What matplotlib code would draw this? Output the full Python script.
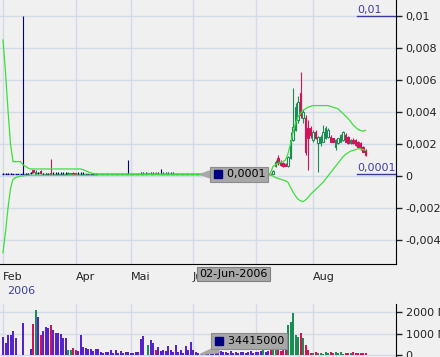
import numpy as np
import matplotlib
matplotlib.use('Agg')
import matplotlib.pyplot as plt
import matplotlib.transforms as mtrans
from matplotlib.ticker import FuncFormatter, MultipleLocator

# daily prices, in units of 0.0001
opens = ([1.5]*4 + [1]*4 + [1] + [1.5]*2 + [2, 3.5, 1, 2, 3] + [1.5]*3 + [2] + [1.5]*6
         + [1, 1.5, 2, 2] + [1.5]*3 + [1]*17 + [1] + [1]*4 + [1.5]*3 + [1] + [1.5]*2
         + [2, 1.5, 1.5] + [1.5]*5 + [1]*35 + [1] + [1]*2 + [1.5, 1]
         + [6, 11, 9, 8, 7.5, 6, 11, 22.5, 29, 35, 51.7, 36, 36, 29.8, 29.8, 22.5, 27.7, 20.4,
            20.4, 21.5, 23.5, 24.6, 24.6, 23.5, 18.3, 20.4, 21.5, 22.5, 25.6, 24.6, 20.4, 22.5,
            22.5, 21.5, 20.4, 18.3, 16.25])
highs = ([2]*4 + [1]*4 + [100] + [2]*2 + [2.5, 4, 4, 2.5, 3.5] + [2]*3 + [10.5] + [2.5]*6
         + [2.5, 2, 2.5, 2] + [2.5]*3 + [1]*17 + [10] + [1]*4 + [2.5]*3 + [2] + [2.5]*2
         + [2.5, 2.5, 4.5] + [2.5]*5 + [1]*35 + [1.5] + [1]*2 + [2, 4]
         + [10, 13, 10, 8.5, 8, 12.5, 27.7, 54.8, 45.4, 50, 65.2, 42, 38, 35, 31, 29, 28.5, 25,
            25.5, 31.9, 31, 30, 25.5, 24, 23, 24, 26, 28, 27, 25, 23, 23.5, 23, 22, 21, 19, 17])
lows = ([1]*4 + [1]*4 + [1] + [1]*2 + [1.5, 2, 1, 1.5, 1.5] + [1]*3 + [1] + [1]*6
        + [1, 1, 1, 1] + [1]*3 + [1]*17 + [1] + [1]*4 + [1]*3 + [1] + [1]*2
        + [1, 1, 1] + [1]*5 + [1]*35 + [1] + [1]*2 + [1, 1]
        + [5.5, 7, 6.5, 5.5, 6, 5.5, 10.5, 22, 28, 33, 36, 33, 13, 3.75, 24, 21, 23, 2.7, 19, 21,
           23, 24, 21, 21, 16.25, 20, 21, 22, 21, 20, 20, 20, 19, 18, 16.5, 15, 12.5])
closes = ([1.5]*4 + [1]*4 + [1] + [1.5]*2 + [2, 2.5, 2.5, 2, 2] + [1.5]*3 + [1] + [1.5]*6
          + [2, 2, 1.5, 1] + [1.5]*3 + [1]*17 + [1] + [1]*4 + [1.5]*3 + [1.8] + [1.5]*2
          + [1.5, 1.5, 1.5] + [1.5]*5 + [1]*35 + [1.3] + [1]*2 + [1, 3]
          + [9, 8, 7, 6, 6.5, 12, 22.5, 30.8, 43, 46, 38, 40, 15.2, 23.5, 25.6, 27.7, 23.5, 24.6,
             24.6, 27.7, 29.8, 28.75, 21.5, 21.5, 22.5, 23.5, 25.6, 27.7, 21.5, 20.4, 22.5, 20.4,
             19.4, 18.3, 17.3, 15.2, 13.1])

# bollinger bands, units of 0.0001
upper = ([85, 65, 41, 20, 9, 9, 9, 9, 7, 6, 5] + [4.4]*21 + [4, 3.3, 2.6, 2, 1.6, 1.4] + [1.3]*69
         + [2, 6, 7, 8, 8.5, 9, 10, 14, 20, 27, 33, 37, 39, 41, 42, 43, 43.5, 44, 44, 44, 44, 44,
            44, 44, 43.5, 43, 42.5, 42, 40.5, 39, 37.5, 36, 34, 32, 30.5, 29, 28.5, 28, 28.5])
lower = ([-48, -35, -20, -8, -2, -1, -0.5, 0, 0, 0.3] + [0.5]*28 + [0.8]*69
         + [0.5, 0, -1, -1.5, -2, -2.5, -3, -4, -7, -10, -12.5, -14.5, -15.5, -16, -15, -13.5,
            -11.5, -10, -8.5, -7, -5.5, -4, -2, 0, 2, 4, 6, 8, 10, 12, 13.5, 14.5, 15.5, 16,
            16.5, 17, 17, 16.5, 16])

# volume in millions
volumes = [850, 570, 930, 930, 1100, 800, 0, 0, 1500, 0,
           0, 260, 1440, 2090, 1780, 930, 1130, 1320, 1270, 1400,
           1160, 1040, 1040, 1000, 775, 775, 230, 230, 310, 230,
           180, 930, 390, 310, 280, 280, 180, 280, 280, 150,
           110, 150, 150, 230, 110, 230, 110, 170, 110, 140,
           140, 80, 110, 140, 140, 730, 880, 0, 465, 700,
           540, 230, 390, 180, 230, 190, 420, 230, 160, 465,
           160, 230, 110, 420, 230, 620, 230, 160, 80, 34.415,
           50, 60, 80, 50, 230, 150, 100, 180, 120, 150,
           90, 200, 110, 140, 90, 160, 120, 100, 150, 180,
           100, 130, 160, 200, 230, 150, 200, 310, 465, 230,
           310, 200, 230, 390, 1400, 1550, 1940, 930, 850, 1040,
           775, 465, 230, 110, 90, 140, 80, 110, 70, 130,
           90, 160, 80, 120, 90, 130, 70, 100, 110, 80,
           120, 90, 110, 100, 80, 110]

# "Jul" sits under the date box in the original, so it is left blank
tick_pos = [0, 29, 51, 76, 101, 124]
tick_lbl = ['Feb', 'Apr', 'Mai', 'Jun', '', 'Aug']
year_lbl = '2006'
cursor = 79
cursor_date = '02-Jun-2006'

o = np.array(opens) * 1e-4
h = np.array(highs) * 1e-4
l = np.array(lows) * 1e-4
c = np.array(closes) * 1e-4
vol = np.array(volumes)
x = np.arange(len(c))

GREEN = '#1c8c55'
RED = '#d0145a'
NAVY = '#000080'
PURPLE = '#5522cc'
BAND = '#3ce03c'
GRID = '#d4dbe8'
BG = '#f0f0f0'
LBL = '#4040a0'

up = c > o
down = c < o
flat = ~(up | down)
ccol = np.where(up, GREEN, np.where(down, RED, NAVY))
vcol = np.where(up, GREEN, np.where(down, RED, PURPLE))


def fmt(v):
    if abs(v) < 1e-12:
        return '0'
    return ('%.4g' % v).replace('.', ',')


def cursor_box(a, xv, yv, text, dx, dy):
    box = dict(boxstyle='square,pad=0.25', fc='#a8a8a8', ec='#8c8c8c', lw=0.8)
    arrow = dict(arrowstyle='wedge,tail_width=0.6', fc='#a8a8a8', ec='#a8a8a8',
                 shrinkA=0, shrinkB=0)
    # leading blanks leave room for the little navy square
    a.annotate('    ' + text, xy=(xv, yv), xytext=(dx, dy), textcoords='offset pixels',
               ha='left', va='center', bbox=box, arrowprops=arrow, zorder=10)
    tr = mtrans.offset_copy(a.transData, fig=a.figure, x=dx + 5, y=dy, units='dots')
    a.plot([xv], [yv], marker='s', ms=5.5, color=NAVY, transform=tr,
           clip_on=False, zorder=11)


plt.rcParams['font.size'] = 8
fig = plt.figure(figsize=(4.4, 3.57), dpi=100, facecolor=BG)
ax = fig.add_axes([0, 1 - 264/357, 396/440, 264/357], facecolor=BG)
axv = fig.add_axes([0, -5/357, 396/440, 58/357], facecolor=BG)

for a in (ax, axv):
    a.set_xlim(-1.2, 157.2)
    a.set_xticks(tick_pos)
    a.grid(True, color=GRID, lw=1)
    a.set_axisbelow(True)
    for s in ('left', 'top'):
        a.spines[s].set_visible(False)
    a.yaxis.tick_right()
    a.tick_params(axis='y', direction='out', length=4, width=1, pad=3, colors='#222222')

# price panel
ax.set_ylim(-0.0055, 0.011)
ax.yaxis.set_major_locator(MultipleLocator(0.002))
ax.yaxis.set_major_formatter(FuncFormatter(lambda v, _: fmt(v)))
ax.set_xticklabels(tick_lbl)
ax.tick_params(axis='x', length=0, pad=6, colors='#222222')
for t in ax.get_xticklabels():
    t.set_horizontalalignment('left')

ax.vlines(x, l, h, colors=ccol, lw=0.8, zorder=2)
ax.bar(x[up], (c - o)[up], bottom=o[up], width=0.7, facecolor='white',
       edgecolor=GREEN, lw=0.8, zorder=2)
ax.bar(x[down], (o - c)[down], bottom=c[down], width=0.7, facecolor=RED,
       edgecolor=RED, lw=0.8, zorder=2)
ax.hlines(o[flat], x[flat] - 0.4, x[flat] + 0.4, color=NAVY, lw=1, zorder=2)

ax.plot(x, np.array(upper) * 1e-4, color=BAND, lw=0.9, zorder=3)
ax.plot(x, np.array(lower) * 1e-4, color=BAND, lw=0.9, zorder=3)

# max / min markers on the right
trans = mtrans.blended_transform_factory(ax.transAxes, ax.transData)
for v in (h.max(), l.min()):
    ax.plot([357/396, 1.0], [v, v], transform=trans, color='#3a3a9a', lw=1, clip_on=False)
    ax.annotate(fmt(v), xy=(357/396, v), xycoords=trans, xytext=(0, 1),
                textcoords='offset pixels', ha='left', va='bottom', color=LBL)

# cursor read-outs
cursor_box(ax, cursor, c[cursor], fmt(c[cursor]), 12, 0)
ax.annotate(cursor_date, xy=(cursor, 0), xycoords=('data', 'axes fraction'),
            xytext=(-1, -10), textcoords='offset pixels', ha='left', va='center',
            bbox=dict(boxstyle='square,pad=0.2', fc='#a8a8a8', ec='#808080', lw=0.8),
            annotation_clip=False, zorder=10)
fig.text(7/440, 1 - 291/357, year_lbl, color=LBL, va='center', ha='left')

# volume panel
axv.set_ylim(-325, 2372)
axv.set_yticks([0, 1000, 2000])
axv.yaxis.set_major_formatter(FuncFormatter(lambda v, _: '0' if v == 0 else '%d M' % v))
axv.spines['bottom'].set_visible(False)
axv.tick_params(axis='x', length=0, labelbottom=False)
axv.bar(x, vol, width=0.8, color=vcol, zorder=2)
cursor_box(axv, cursor, vol[cursor], '%d' % round(vol[cursor] * 1e6), 13, 13)

plt.savefig('out.png', dpi=100, facecolor=BG)
